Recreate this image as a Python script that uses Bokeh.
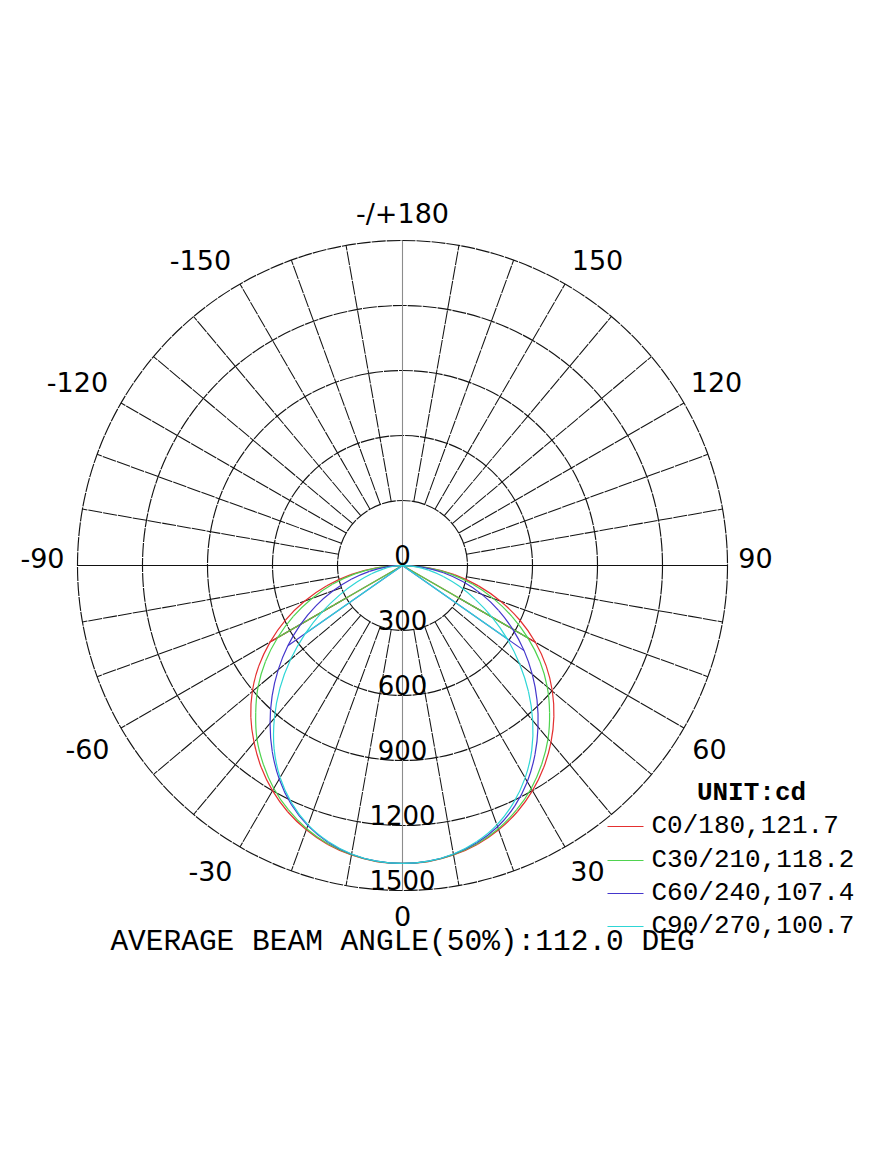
import numpy as np
from bokeh.plotting import figure
from bokeh.models import Range1d
from bokeh.core.properties import value
from bokeh.embed import file_html
from bokeh.resources import INLINE

# ---------------- data ----------------
gamma = [0, 5, 10, 15, 20, 25, 30, 35, 40, 45, 50, 55, 60, 65, 70, 75, 80, 85, 90]

c0_right = [1375, 1372, 1357, 1333, 1298, 1254, 1200, 1137, 1066, 988, 903, 810, 708, 598, 482, 363, 243, 122, 0]
c0_left = [1375, 1372, 1357, 1333, 1298, 1254, 1200, 1137, 1066, 990, 905, 810, 705, 596, 480, 362, 242, 121, 0]
c30_right = [1375, 1371, 1355, 1330, 1293, 1245, 1188, 1120, 1045, 960, 872, 775, 668, 558, 447, 336, 224, 112, 0]
c30_left = [1375, 1371, 1355, 1330, 1293, 1245, 1188, 1120, 1045, 958, 870, 772, 665, 556, 445, 335, 223, 111, 0]
c60_right = [1375, 1370, 1353, 1325, 1283, 1225, 1152, 1066, 973, 878, 782, 685, 587, 489, 390, 290, 192, 95, 0]
c60_left = [1375, 1370, 1353, 1323, 1278, 1216, 1138, 1048, 951, 851, 749, 646, 543, 441, 341, 245, 155, 73, 0]
c90_right = [1375, 1370, 1352, 1320, 1274, 1210, 1132, 1040, 935, 822, 705, 590, 478, 372, 278, 195, 122, 58, 0]
c90_left = [1375, 1370, 1352, 1320, 1274, 1210, 1130, 1033, 920, 800, 674, 548, 428, 318, 224, 148, 88, 40, 0]

chord_gamma = [60, 60, 55, 55]

series_names = ["C0/180,121.7", "C30/210,118.2", "C60/240,107.4", "C90/270,100.7"]
series_colors = ["#e43030", "#4fd34f", "#4436cc", "#2ed6d6"]

ring_values = [300, 600, 900, 1200, 1500]
ring_labels = ["300", "600", "900", "1200", "1500"]
angle_ticks = [0, 30, 60, 90, 120, 150, 180, -150, -120, -90, -60, -30]
angle_labels = ["0", "30", "60", "90", "120", "150", "-/+180", "-150", "-120", "-90", "-60", "-30"]

unit_text = "UNIT:cd"
title_text = "AVERAGE BEAM ANGLE(50%):112.0 DEG"

# ---------------- layout / style ----------------
W, H = 859, 1150
CX, CY = 402, 565            # centre of the diagram in pixels
S = 1500.0 / 325.0            # cd per pixel
# pixel offsets of the angle labels from the centre (layout only)
angle_label_offsets = [(0, 350), (185, 305), (307, 183), (353, -8), (314, -184), (195, -306),
                       (0, -352), (-202, -306), (-325, -184), (-360, -8), (-315, 183), (-192, 305)]


def P(xw, yw):
    """pixel -> data coordinates"""
    return (xw - CX) * S, (CY - yw) * S


def polar(r, g):
    g = np.radians(np.asarray(g, dtype=float))
    r = np.asarray(r, dtype=float)
    return r * np.sin(g), -r * np.cos(g)


p = figure(width=W, height=H, output_backend="svg", toolbar_location=None,
           x_range=Range1d(-CX * S, (W - CX) * S),
           y_range=Range1d(-(H - CY) * S, CY * S),
           min_border=0, outline_line_color=None)
p.axis.visible = False
p.grid.visible = False
p.background_fill_color = "white"
p.border_fill_color = "white"

grid_col = "#141414"
# rings
p.circle(x=[0] * len(ring_values), y=[0] * len(ring_values), radius=ring_values,
         fill_color=None, line_color=grid_col, line_width=1.15, line_dash="14 1")

# radial spokes every 10 degrees, starting at the first ring
xs, ys = [], []
for a in range(0, 360, 10):
    if a % 90 == 0:
        continue
    x0, y0 = polar(ring_values[0], a)
    x1, y1 = polar(ring_values[-1], a)
    xs.append([float(x0), float(x1)])
    ys.append([float(y0), float(y1)])
p.multi_line(xs, ys, line_color=grid_col, line_width=1.05, line_dash="14 1")

# main axes
p.segment(x0=[-ring_values[-1]], y0=[0], x1=[ring_values[-1]], y1=[0],
          line_color="#111111", line_width=1.1)
p.segment(x0=[0], y0=[-ring_values[-1]], x1=[0], y1=[ring_values[-1]],
          line_color="#8c8c8c", line_width=1.1)

# angle labels
lx = [dx * S for dx, dy in angle_label_offsets]
ly = [-dy * S for dx, dy in angle_label_offsets]
p.text(x=lx, y=ly, text=angle_labels, text_align="center",
       text_baseline="middle", text_font=value("DejaVu Sans"),
       text_font_size=value("27px"), text_color="#000000")

# ring value labels along the downward axis
rv_y = [-v for v in ring_values]
p.text(x=[0] * len(ring_values), y=rv_y, text=ring_labels, text_align="center",
       text_baseline="bottom", y_offset=-1, text_font=value("DejaVu Sans"),
       text_font_size=value("26px"), text_color="#000000")
p.text(x=[0], y=[0], text=["0"], text_align="center", text_baseline="bottom",
       y_offset=-1, text_font=value("DejaVu Sans"), text_font_size=value("26px"),
       text_color="#000000")


def smooth_bezier(x, y):
    """Catmull-Rom style cubic Bezier pieces through the given points."""
    x = np.asarray(x, float)
    y = np.asarray(y, float)
    n = len(x)
    xp = np.concatenate([[x[0]], x, [x[-1]]])
    yp = np.concatenate([[y[0]], y, [y[-1]]])
    out = dict(x0=[], y0=[], x1=[], y1=[], cx0=[], cy0=[], cx1=[], cy1=[])
    for i in range(n - 1):
        a, b, c, d = i, i + 1, i + 2, i + 3
        out["x0"].append(xp[b]); out["y0"].append(yp[b])
        out["x1"].append(xp[c]); out["y1"].append(yp[c])
        out["cx0"].append(xp[b] + (xp[c] - xp[a]) / 6.0)
        out["cy0"].append(yp[b] + (yp[c] - yp[a]) / 6.0)
        out["cx1"].append(xp[c] - (xp[d] - xp[b]) / 6.0)
        out["cy1"].append(yp[c] - (yp[d] - yp[b]) / 6.0)
    return out


# curves
curves = [(c0_left, c0_right), (c30_left, c30_right), (c60_left, c60_right), (c90_left, c90_right)]
for (left, right), col, cg in zip(curves, series_colors, chord_gamma):
    gl = [-g for g in gamma[::-1]]
    il = left[::-1]
    g_all = gl + gamma[1:]
    i_all = il + right[1:]
    x, y = polar(i_all, g_all)
    p.bezier(**smooth_bezier(x, y), line_color=col, line_width=1.2)
    k = gamma.index(cg)
    xl, yl = polar(left[k], -cg)
    xr, yr = polar(right[k], cg)
    p.segment(x0=[0, 0], y0=[0, 0], x1=[float(xl), float(xr)], y1=[float(yl), float(yr)],
              line_color=col, line_width=1.2)

# legend
ux, uy = P(751, 792)
p.text(x=[ux], y=[uy], text=[unit_text], text_align="center", text_baseline="middle",
       text_font=value("Liberation Mono"), text_font_size=value("26px"),
       text_font_style="bold", text_color="#000000")
row_y = [825, 859, 892, 925]
for name, col, ry in zip(series_names, series_colors, row_y):
    x0, y0 = P(607, ry + 1)
    x1, _ = P(643, ry + 1)
    p.segment(x0=[x0], y0=[y0], x1=[x1], y1=[y0], line_color=col, line_width=1.2)
    tx, ty = P(651, ry)
    p.text(x=[tx], y=[ty], text=[name], text_align="left", text_baseline="middle",
           text_font=value("Liberation Mono"), text_font_size=value("26px"),
           text_color="#000000")

# title
tx, ty = P(402, 941)
p.text(x=[tx], y=[ty], text=[title_text], text_align="center", text_baseline="middle",
       text_font=value("Liberation Mono"), text_font_size=value("29.5px"),
       text_color="#000000")

open("out.html", "w").write(file_html(p, INLINE))
